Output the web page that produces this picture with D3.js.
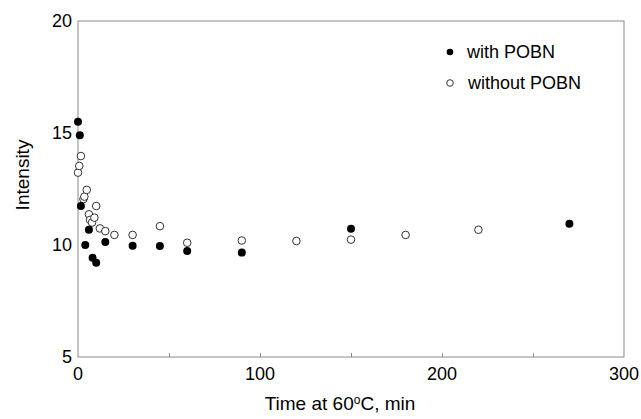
<!DOCTYPE html>
<html>
<head>
<meta charset="utf-8">
<script src="https://cdn.jsdelivr.net/npm/d3@7"></script>
<style>
  body { margin: 0; background: #fff; }
  svg { display: block; font-family: "Liberation Sans", Arial, sans-serif; }
</style>
</head>
<body>
<script>
// time (min) and intensity
var withTime = [0, 1, 1.6, 4, 6, 8, 10, 15, 30, 45, 60, 90, 150, 270];
var withValue = [15.5, 14.9, 11.74, 10.0, 10.68, 9.43, 9.21, 10.13, 9.97, 9.95, 9.73, 9.66, 10.73, 10.95];

var withoutTime = [0, 0.7, 1.6, 3, 3.5, 4.8, 6, 6.6, 7.7, 9, 10, 12, 15, 20, 30, 45, 60, 90, 120, 150, 180, 220];
var withoutValue = [13.23, 13.53, 13.97, 12.05, 12.16, 12.46, 11.37, 11.12, 11.0, 11.22, 11.74, 10.74, 10.62, 10.45, 10.45, 10.84, 10.1, 10.2, 10.18, 10.24, 10.45, 10.68];

var xTicks = [0, 100, 200, 300];
var xMinorTicks = [50, 100, 150, 200, 250];
var yTicks = [5, 10, 15, 20];
var legendLabels = ['with POBN', 'without POBN'];

var W = 641, H = 419;
var margin = { left: 78, right: 17, top: 21, bottom: 62 };

var svg = d3.select('body').append('svg')
    .attr('width', W)
    .attr('height', H);

var x = d3.scaleLinear().domain([0, 300]).range([margin.left, W - margin.right]);
var y = d3.scaleLinear().domain([5, 20]).range([H - margin.bottom, margin.top]);

var axisColor = '#8a8a8a';

// frame
svg.append('rect')
    .attr('x', x(0))
    .attr('y', y(20))
    .attr('width', x(300) - x(0))
    .attr('height', y(5) - y(20))
    .attr('fill', 'none')
    .attr('stroke', axisColor)
    .attr('stroke-width', 1);

// x axis: inward ticks, labels drawn separately
var xAxis = svg.append('g')
    .attr('transform', 'translate(0,' + y(5) + ')')
    .call(d3.axisBottom(x).tickValues(xMinorTicks).tickSize(-4).tickFormat(''));
xAxis.select('.domain').remove();
xAxis.selectAll('line').attr('stroke', axisColor);

svg.append('g').selectAll('text')
  .data(xTicks).enter()
  .append('text')
    .attr('x', function(d) { return x(d); })
    .attr('y', y(5) + 23)
    .attr('text-anchor', 'middle')
    .attr('font-size', 18)
    .text(function(d) { return d; });

svg.append('g').selectAll('text')
  .data(yTicks).enter()
  .append('text')
    .attr('x', x(0) - 6)
    .attr('y', function(d) { return y(d); })
    .attr('dy', '0.36em')
    .attr('text-anchor', 'end')
    .attr('font-size', 18)
    .text(function(d) { return d; });

// axis titles
var xt = svg.append('text')
    .attr('x', 340)
    .attr('y', 410)
    .attr('text-anchor', 'middle')
    .attr('font-size', 19);
xt.append('tspan').text('Time at 60');
xt.append('tspan').attr('font-size', 12).attr('dy', -6).text('o');
xt.append('tspan').attr('dy', 6).text('C, min');

svg.append('text')
    .attr('transform', 'translate(29,' + 175 + ') rotate(-90)')
    .attr('text-anchor', 'middle')
    .attr('font-size', 19)
    .text('Intensity');

// points
var withData = withTime.map(function(t, i) { return { t: t, v: withValue[i] }; });
var withoutData = withoutTime.map(function(t, i) { return { t: t, v: withoutValue[i] }; });

svg.append('g').selectAll('circle')
  .data(withoutData).enter()
  .append('circle')
    .attr('cx', function(d) { return x(d.t); })
    .attr('cy', function(d) { return y(d.v); })
    .attr('r', 3.8)
    .attr('fill', 'white')
    .attr('stroke', '#333')
    .attr('stroke-width', 1);

svg.append('g').selectAll('circle')
  .data(withData).enter()
  .append('circle')
    .attr('cx', function(d) { return x(d.t); })
    .attr('cy', function(d) { return y(d.v); })
    .attr('r', 4)
    .attr('fill', '#000');

// legend
var legend = svg.append('g').selectAll('g')
  .data(legendLabels).enter()
  .append('g')
    .attr('transform', function(d, i) { return 'translate(450,' + (52 + i * 31) + ')'; });

legend.append('circle')
    .attr('r', 3.3)
    .attr('fill', function(d, i) { return i === 0 ? '#000' : 'white'; })
    .attr('stroke', function(d, i) { return i === 0 ? 'none' : '#333'; })
    .attr('stroke-width', 1);

legend.append('text')
    .attr('x', function(d, i) { return i === 0 ? 17 : 18; })
    .attr('dy', '0.36em')
    .attr('font-size', 18)
    .text(function(d) { return d; });
</script>
</body>
</html>
